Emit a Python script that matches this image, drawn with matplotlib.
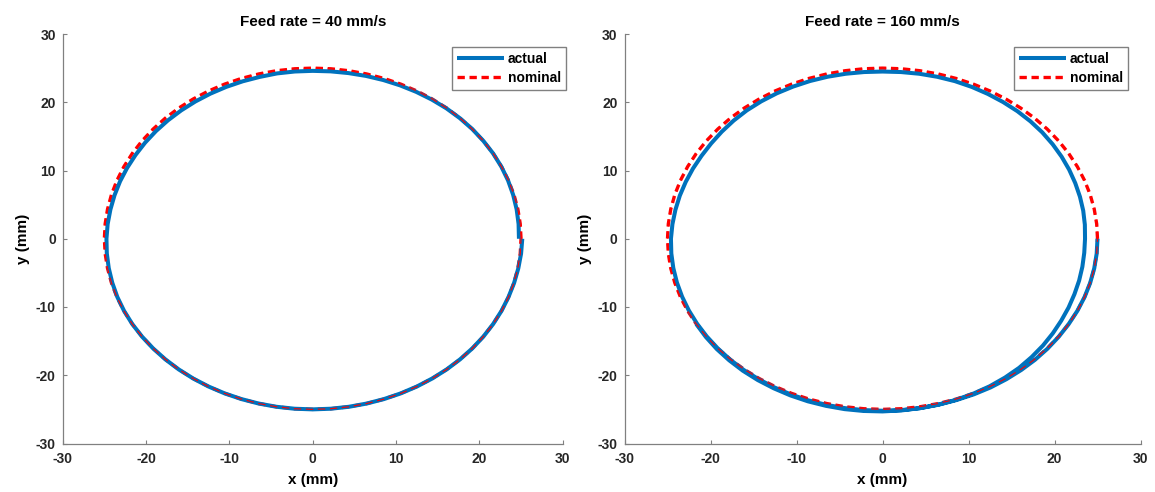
import numpy as np
import matplotlib.pyplot as plt

plt.rcParams['font.family'] = ['Liberation Sans', 'DejaVu Sans']
plt.rcParams['font.weight'] = 'bold'
plt.rcParams['axes.unicode_minus'] = False

# Commanded circle
nominal_r = 25.0
nominal_deg = np.arange(0, 365, 5)

# Measured tool path, radius (mm) every 5 deg going clockwise from (25, 0)
feed_rates = [40, 160]
path_deg = [np.arange(0, -365, -5), np.arange(0, -515, -5)]
path_r = [
    [25.15, 25.1, 25.05, 25.02, 25.0, 25.0, 25.0, 25.0, 25.0, 25.0,
     25.0, 25.0, 25.0, 25.0, 25.0, 25.0, 25.0, 25.0, 25.0, 25.0,
     25.0, 25.0, 25.0, 25.0, 25.0, 25.0, 25.0, 25.0, 25.0, 25.0,
     25.0, 24.98, 24.95, 24.9, 24.85, 24.8, 24.75, 24.7, 24.65, 24.62,
     24.6, 24.57, 24.55, 24.55, 24.55, 24.55, 24.55, 24.55, 24.55, 24.55,
     24.55, 24.55, 24.6, 24.6, 24.6, 24.62, 24.65, 24.7, 24.75, 24.8,
     24.85, 24.9, 24.95, 24.98, 25.0, 25.0, 25.0, 24.98, 24.95, 24.9,
     24.85, 24.8, 24.75],
    [25.0, 25.0, 25.0, 25.0, 25.0, 25.0, 25.0, 25.02, 25.05, 25.08,
     25.1, 25.12, 25.15, 25.15, 25.15, 25.18, 25.2, 25.2, 25.2, 25.2,
     25.2, 25.2, 25.2, 25.18, 25.15, 25.12, 25.1, 25.05, 25.0, 24.95,
     24.9, 24.85, 24.8, 24.75, 24.7, 24.65, 24.6, 24.52, 24.45, 24.4,
     24.35, 24.32, 24.3, 24.33, 24.4, 24.48, 24.55, 24.58, 24.6, 24.6,
     24.6, 24.58, 24.55, 24.52, 24.5, 24.52, 24.55, 24.57, 24.58, 24.55,
     24.5, 24.45, 24.4, 24.33, 24.25, 24.15, 24.05, 23.95, 23.85, 23.77,
     23.7, 23.62, 23.55, 23.55, 23.6, 23.67, 23.75, 23.87, 24.0, 24.17,
     24.35, 24.52, 24.7, 24.83, 24.95, 25.03, 25.1, 25.15, 25.2, 25.25,
     25.3, 25.33, 25.35, 25.35, 25.35, 25.33, 25.3, 25.28, 25.25, 25.2,
     25.15, 25.08, 25.0],
]

blue = '#0072BD'
grey = '#808080'

fig = plt.figure(figsize=(11.55, 4.92), dpi=100)
W, H = 1155, 492
boxes = [(62.7, 500), (624.5, 516)]
legend_corner = [(566, 47), (1128, 47)]

for i in range(2):
    x0, w = boxes[i]
    ax = fig.add_axes([x0 / W, 48.5 / H, w / W, 409.5 / H])

    th = np.radians(path_deg[i])
    r = np.array(path_r[i])
    act, = ax.plot(r * np.cos(th), r * np.sin(th), color=blue, lw=2.9,
                   zorder=3, solid_capstyle='butt')

    tn = np.radians(nominal_deg)
    xn, yn = nominal_r * np.cos(tn), nominal_r * np.sin(tn)
    nom, = ax.plot(xn, yn, color='red', lw=2.4, ls=(0, (2.2, 1.4)), zorder=2)
    ax.plot(xn, yn, color='red', lw=0.8, ls=(0, (6.6, 4.2)), zorder=4)

    ax.set_xlim(-30, 30)
    ax.set_ylim(-30, 30)
    ax.set_xticks(np.arange(-30, 31, 10))
    ax.set_yticks(np.arange(-30, 31, 10))
    for s in ['top', 'right']:
        ax.spines[s].set_visible(False)
    for s in ['left', 'bottom']:
        ax.spines[s].set_color(grey)
        ax.spines[s].set_linewidth(0.9)
    ax.tick_params(direction='in', length=3, width=0.8, color=grey,
                   labelcolor='#262626', labelsize=10)
    ax.tick_params(axis='x', pad=6)
    ax.tick_params(axis='y', pad=5)

    ax.set_title('Feed rate = %d mm/s' % feed_rates[i], fontsize=11,
                 fontweight='bold', pad=6)
    ax.set_xlabel('x (mm)', fontsize=11, fontweight='bold', labelpad=5)
    ax.set_ylabel('y (mm)', fontsize=11, fontweight='bold', labelpad=4)

    lx, ly = legend_corner[i]
    leg = ax.legend([act, nom], ['actual', 'nominal'], loc='upper right',
                    bbox_to_anchor=(lx / W, 1 - ly / H),
                    bbox_transform=fig.transFigure, fancybox=False,
                    edgecolor=grey, framealpha=1, fontsize=10,
                    handlelength=3.4, handletextpad=0.3, borderpad=0.35,
                    labelspacing=0.35, borderaxespad=0)
    leg.get_frame().set_linewidth(1.0)

fig.savefig('out.png', dpi=100)
